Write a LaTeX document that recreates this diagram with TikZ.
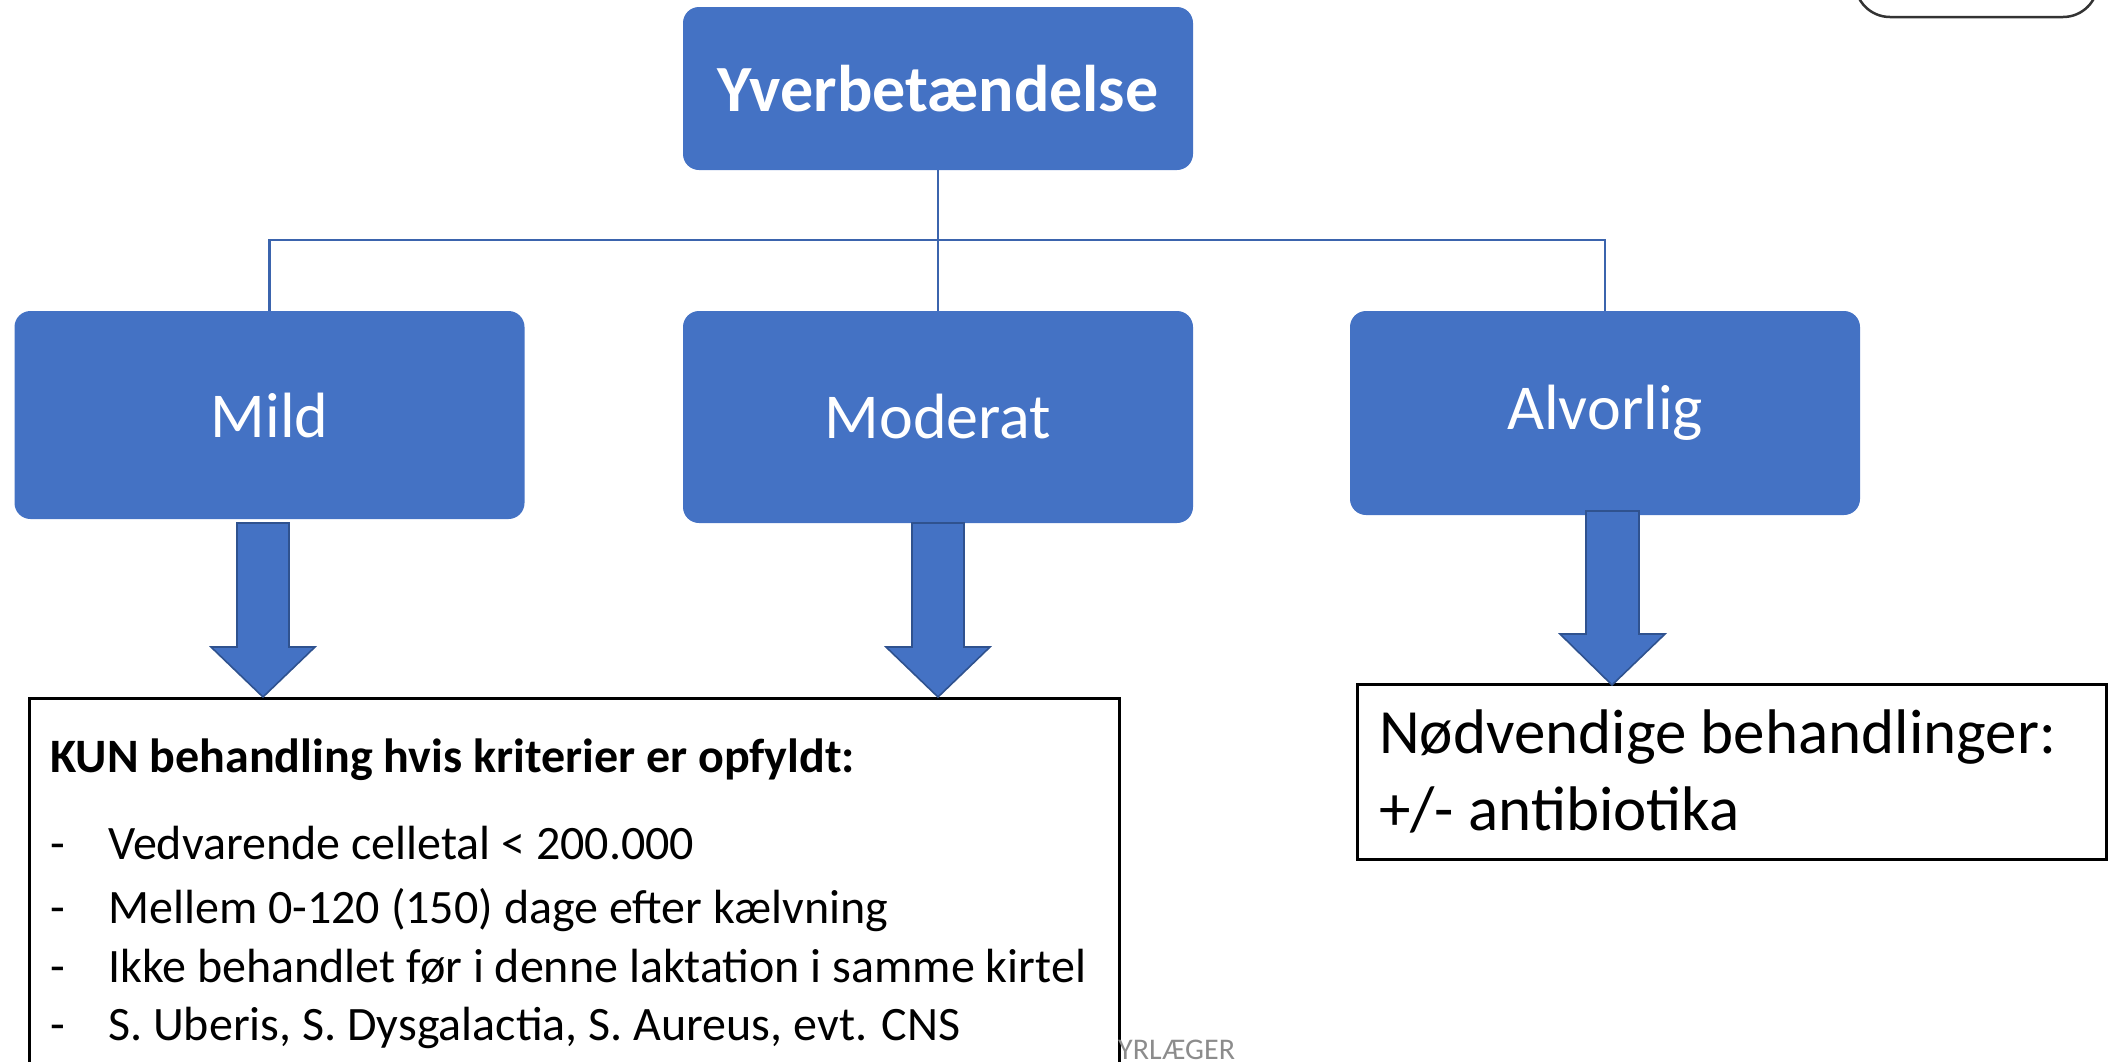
\documentclass[tikz,border=0pt]{standalone}
\usepackage{fontspec}
\setmainfont{Carlito}
\definecolor{boxblue}{HTML}{4472C4}
\definecolor{edgeblue}{HTML}{2F528F}
\definecolor{linkblue}{HTML}{3B64AD}
\definecolor{markgray}{HTML}{8C8C8C}
\begin{document}
\begin{tikzpicture}[x=1pt,y=-1pt,
  catbox/.style={rectangle, rounded corners=16pt, fill=boxblue, text=white,
    minimum width=510pt, inner sep=0pt},
  catfont/.style={font=\fontsize{64}{77}\selectfont},
  link/.style={draw=linkblue, line width=2.2pt},
  blockarrow/.style={fill=boxblue, draw=edgeblue, line width=1.6pt, line join=miter},
  infobox/.style={rectangle, draw=black, line width=3pt, fill=white, inner sep=0pt},
  bodytext/.style={anchor=base west, inner sep=0pt, font=\fontsize{48}{58}\selectfont},
  bigtext/.style={anchor=base west, inner sep=0pt, font=\fontsize{63}{76}\selectfont}
]
\path[use as bounding box, clip] (0,0) rectangle (2113,1061);

% partial frame in top right corner
\draw[draw=black!80, line width=2.5pt, rounded corners=35pt] (1855,-60) rectangle (2098,17);

% category boxes
\node[catbox, minimum height=163pt, font=\fontsize{66}{79}\selectfont\bfseries] (top) at (938,88.5) {Yverbetændelse};
\node[catbox, catfont, minimum height=208pt] (mild) at (269.5,415) {Mild};
\node[catbox, catfont, minimum height=212pt] (mod) at (938,417) {Moderat};
\node[catbox, catfont, minimum height=204pt] (alv) at (1605,413) {Alvorlig};

% tree connectors
\coordinate (bus) at (938,240);
\draw[link] (top.south) -- (bus);
\draw[link] (mild.north) |- (bus) -| (alv.north);
\draw[link] (bus) -- (mod.north);

% info boxes
\node[infobox, anchor=north west, minimum width=1090pt, minimum height=390pt] (crit) at (28,697) {};
\node[infobox, anchor=north west, minimum width=749pt, minimum height=175pt] (need) at (1356,683) {};

% gray footer text
\node[anchor=base west, inner sep=0pt, text=markgray, font=\fontsize{30}{35}\selectfont] (mark) at (1118,1059) {YRLÆGER};

% block arrows
\draw[blockarrow] (237,523) -- (289,523) -- (289,647) -- (315,647) -- (263,697)
  -- (211,647) -- (237,647) -- cycle;
\draw[blockarrow] (912,523) -- (964,523) -- (964,647) -- (990,647) -- (938,697)
  -- (886,647) -- (912,647) -- cycle;
\draw[blockarrow] (1586,511) -- (1639,511) -- (1639,634) -- (1665,634) -- (1612,685)
  -- (1560,634) -- (1586,634) -- cycle;

% texts of the criteria box
\node[bodytext, font=\fontsize{48}{58}\selectfont\bfseries] (hdr) at (50,772) {KUN behandling hvis kriterier er opfyldt:};
\node[bodytext] (d1) at (50,859) {-};
\node[bodytext] (c1) at (108,859) {Vedvarende celletal < 200.000};
\node[bodytext] (d2) at (50,923) {-};
\node[bodytext] (c2) at (108,923) {Mellem 0-120 (150) dage efter kælvning};
\node[bodytext] (d3) at (50,982) {-};
\node[bodytext] (c3) at (108,982) {Ikke behandlet før i denne laktation i samme kirtel};
\node[bodytext] (d4) at (50,1040) {-};
\node[bodytext] (c4) at (108,1040) {S. Uberis, S. Dysgalactia, S. Aureus, evt. CNS};

% texts of the treatment box
\node[bigtext] (n1) at (1379,753) {Nødvendige behandlinger:};
\node[bigtext] (n2) at (1379,830) {+/- antibiotika};
\end{tikzpicture}
\end{document}
